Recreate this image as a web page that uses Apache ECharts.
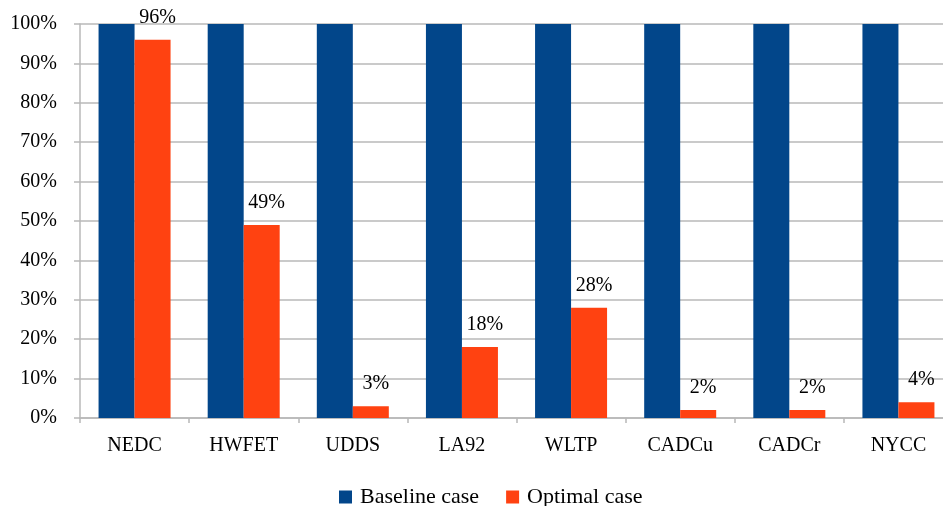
<!DOCTYPE html>
<html>
<head>
<meta charset="utf-8">
<script src="https://cdn.jsdelivr.net/npm/echarts@6/dist/echarts.min.js"></script>
<style>
  html, body { margin: 0; padding: 0; background: #fff; }
  #chart { width: 943px; height: 506px; }
</style>
</head>
<body>
<div id="chart"></div>
<script>
// Drive cycles and the share of each relative to the baseline
const cycles = ['NEDC', 'HWFET', 'UDDS', 'LA92', 'WLTP', 'CADCu', 'CADCr', 'NYCC'];
const baselineCase = [100, 100, 100, 100, 100, 100, 100, 100];
const optimalCase = [96, 49, 3, 18, 28, 2, 2, 4];
const seriesNames = ['Baseline case', 'Optimal case'];

const FONT = '"Liberation Serif", "DejaVu Serif", serif';
const GRID_GRAY = '#b8b8b8';

const chart = echarts.init(document.getElementById('chart'), null, { renderer: 'canvas' });

chart.setOption({
  animation: false,
  textStyle: { fontFamily: FONT },
  // plot area runs a little past the right edge of the canvas
  grid: {
    left: 80, width: 873, top: 24, height: 394,
    containLabel: false,
    outerBoundsMode: 'none'
  },
  legend: {
    data: seriesNames,
    left: 334,
    top: 481,
    icon: 'rect',
    itemWidth: 13,
    itemHeight: 13,
    itemGap: 27,
    textStyle: { fontFamily: FONT, fontSize: 22, color: '#000', padding: [0, 0, 0, 3] }
  },
  xAxis: {
    type: 'category',
    data: cycles,
    boundaryGap: true,
    axisLine: { show: true, lineStyle: { color: GRID_GRAY, width: 1.5 } },
    axisTick: { show: true, length: 5, alignWithLabel: false, lineStyle: { color: GRID_GRAY, width: 1.5 } },
    axisLabel: { margin: 18, fontFamily: FONT, fontSize: 20, color: '#000' },
    splitLine: { show: false }
  },
  yAxis: {
    type: 'value',
    min: 0,
    max: 100,
    interval: 10,
    axisLine: { show: true, lineStyle: { color: GRID_GRAY, width: 1.5 } },
    axisTick: { show: true, length: 6, lineStyle: { color: GRID_GRAY, width: 1.5 } },
    axisLabel: { margin: 23, fontFamily: FONT, fontSize: 20, color: '#000', formatter: '{value}%' },
    splitLine: { show: true, lineStyle: { color: GRID_GRAY, width: 1.5 } }
  },
  series: [
    {
      name: seriesNames[0],
      type: 'bar',
      data: baselineCase,
      barWidth: 36,
      barGap: '0%',
      itemStyle: { color: '#02468A' }
    },
    {
      name: seriesNames[1],
      type: 'bar',
      data: optimalCase,
      barWidth: 36,
      barGap: '0%',
      itemStyle: { color: '#FF4211' },
      label: {
        show: true,
        position: 'top',
        distance: 12,
        offset: [5, 0],
        formatter: '{c}%',
        fontFamily: FONT,
        fontSize: 20,
        color: '#000'
      }
    }
  ]
});
</script>
</body>
</html>
